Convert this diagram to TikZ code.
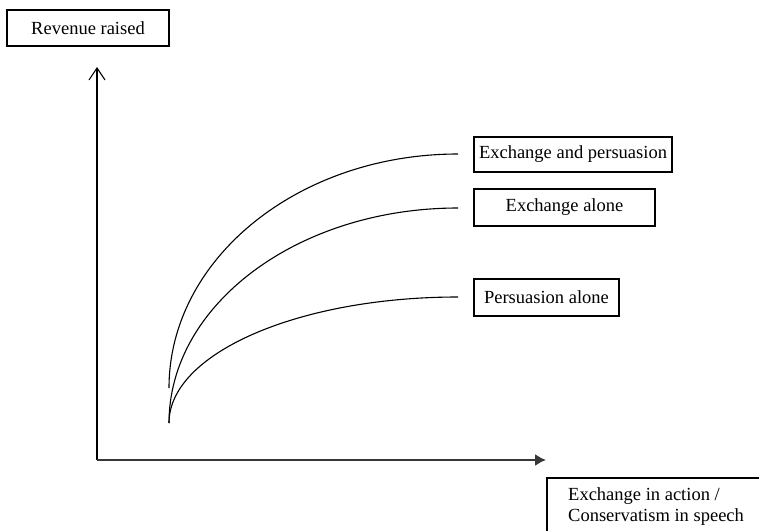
\documentclass[tikz,border=0pt]{standalone}
\usepackage{fontspec}
\setmainfont{Liberation Serif}
\usetikzlibrary{arrows.meta}
\tikzset{
  lbl/.style={draw=black, line width=1.1pt, inner sep=0pt, font=\fontsize{18.5}{22}\selectfont},
  curve/.style={line width=1.1pt, black},
  txt/.style={inner sep=0pt, font=\fontsize{18.5}{22}\selectfont}
}
\begin{document}
\begin{tikzpicture}[x=1pt,y=-1pt]
\useasboundingbox (0,0) rectangle (759,530);
\clip (0,0) rectangle (759,530);
% axes
\coordinate (o) at (97,460);
\coordinate (ytop) at (97,67);
\coordinate (xend) at (546,460);
\draw[line width=1.1pt, black, -{Straight Barb[length=12pt,width=16pt,line width=1.1pt]}] (o) -- (ytop);
\draw[line width=1.7pt, black!78, -{Latex[length=11pt,width=12pt]}] (o) -- (xend);
% boxes
\node[lbl, minimum width=162pt, minimum height=36pt] (rev) at (88,28) {Revenue raised};
\node[lbl, minimum width=198pt, minimum height=35pt] (ep) at (573,154.5) {Exchange and persuasion};
\node[lbl, minimum width=181pt, minimum height=37pt] (ea) at (564.5,207.5) {Exchange alone};
\node[lbl, minimum width=145pt, minimum height=37pt] (pa) at (546.5,297.5) {Persuasion alone};
\draw[line width=1.1pt] (547,545) -- (547,478) -- (775,478) -- (775,545);
\node[txt, anchor=base west] (xl1) at (568,500) {Exchange in action /};
\node[txt, anchor=base west] (xl2) at (568,521) {Conservatism in speech};
% curves
\coordinate (s1) at (169,388);
\coordinate (e1) at (458,154);
\coordinate (s2) at (169,423);
\coordinate (e2) at (458,208);
\coordinate (s3) at (169,423);
\coordinate (e3) at (458,297);
\draw[curve] (s1) .. controls (169,258.8) and (298.4,154) .. (e1);
\draw[curve] (s2) .. controls (169,304.3) and (298.4,208) .. (e2);
\draw[curve] (s3) .. controls (169,353.4) and (298.4,297) .. (e3);
\end{tikzpicture}
\end{document}
